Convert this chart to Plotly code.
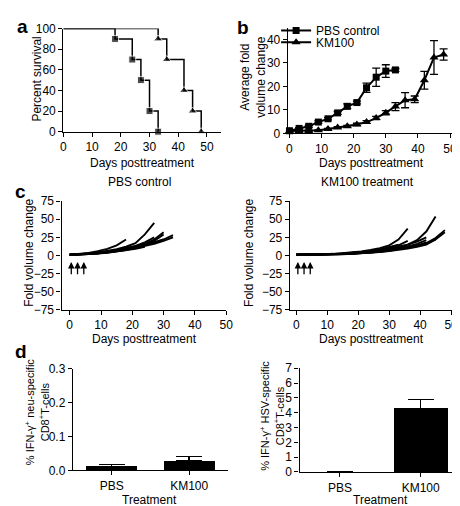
import plotly.graph_objects as go

W, H = 460, 506
FONT = "Liberation Sans, Arial, Helvetica, sans-serif"

# ---------------- data ----------------
# (a) Kaplan-Meier survival
SURV_PBS_DAYS = [0, 18, 24, 27, 30, 33]
SURV_PBS = [100, 90, 70, 50, 20, 0]
SURV_KM_DAYS = [0, 33, 36, 42, 45, 48]
SURV_KM = [100, 90, 70, 40, 20, 0]

# (b) average fold volume change
PBS_DAYS = [0, 3, 6, 9, 12, 15, 18, 21, 24, 27, 30, 33]
PBS_MEAN = [1.1, 2.1, 3.0, 4.8, 6.2, 8.7, 11.5, 13.1, 19.4, 23.9, 26.5, 27.0]
PBS_ERR = [0.2, 0.3, 0.4, 0.5, 0.5, 0.6, 1.0, 0.6, 2.0, 3.9, 2.7, 0.6]
KM_DAYS = [0, 3, 6, 9, 12, 15, 18, 21, 24, 27, 30, 33, 36, 39, 42, 45, 48]
KM_MEAN = [1.0, 1.0, 1.0, 1.3, 1.8, 2.5, 3.0, 3.8, 4.8, 6.5, 8.8, 11.4, 14.1, 14.5, 22.6, 32.3, 33.6]
KM_ERR = [0.2, 0.2, 0.2, 0.2, 0.3, 0.3, 0.4, 0.5, 0.6, 0.7, 0.9, 1.7, 3.2, 1.4, 3.8, 7.2, 2.4]

# (c) individual tumour growth curves (fold volume change), measured every 3 days
CURVE_DAYS = [0, 3, 6, 9, 12, 15, 18, 21, 24, 27, 30, 33, 36, 39, 42, 45, 48]
PBS_MICE = [
    [1, 2, 3.5, 6, 9, 14, 22],
    [1, 1.5, 2.5, 4, 6, 8.5, 12, 17, 29, 45],
    [1, 1.4, 2.3, 3.5, 5, 7, 9.5, 12.5, 16, 22, 32],
    [1, 1.3, 2, 3, 4.5, 6.5, 9, 12, 15, 20, 29],
    [1, 1.5, 2.5, 3.5, 5, 7, 10, 13, 18, 25],
    [1, 1.4, 2, 3, 4, 5.5, 8, 11, 14, 18, 22, 28],
    [1, 1.2, 1.8, 2.8, 4, 5.5, 7.5, 10, 13, 16, 20, 25],
    [1, 1.3, 2, 3, 4.5, 6, 8, 11, 14, 18, 22],
    [1, 1.5, 2.5, 3.5, 5, 7, 9.5, 12, 15],
    [1, 1.2, 1.8, 2.5, 3.5, 5, 7, 9, 12],
]
KM_MICE = [
    [1, 1, 1.3, 1.7, 2.2, 3, 4, 5.5, 7.5, 10, 14, 22, 37],
    [1, 1, 1.2, 1.5, 2, 2.6, 3.4, 4.5, 6, 8, 11, 15],
    [1, 1, 1.2, 1.5, 1.9, 2.5, 3.3, 4.3, 5.8, 7.8, 10.5, 14, 20],
    [1, 1, 1.1, 1.4, 1.8, 2.3, 3, 4, 5.3, 7, 9, 12, 15, 19, 25],
    [1, 1, 1.1, 1.3, 1.6, 2, 2.6, 3.4, 4.5, 6, 8, 10, 12.5, 16, 21],
    [1, 1, 1.1, 1.2, 1.5, 1.9, 2.4, 3, 4, 5.3, 7, 9, 11, 14, 18],
    [1, 1, 1.2, 1.5, 1.9, 2.5, 3.2, 4.2, 5.5, 7, 9, 11.5, 15, 21, 33, 54],
    [1, 1, 1.1, 1.3, 1.6, 2, 2.5, 3.2, 4.2, 5.5, 7, 9, 11, 13.5, 17, 24, 35],
    [1, 1, 1.1, 1.2, 1.5, 1.8, 2.3, 3, 3.8, 5, 6.5, 8.5, 10.5, 13, 16, 22, 32],
    [1, 1, 1.1, 1.2, 1.4, 1.7, 2.1, 2.7, 3.5, 4.5, 6, 7.5, 9.5, 12, 15, 22],
]
TREATMENT_DAYS = [0.5, 2.5, 4.5]

# (d) IFN-gamma ELISPOT
GROUPS = ["PBS", "KM100"]
NEU_MEAN = [0.012, 0.029]
NEU_ERR = [0.006, 0.011]
HSV_MEAN = [0, 4.3]
HSV_ERR = [None, 0.6]


# ---------------- helpers ----------------
def xd(a, b):
    return [a / W, b / W]


def yd(top, bottom):
    return [1 - bottom / H, 1 - top / H]


fig = go.Figure()

# (a)
fig.add_trace(go.Scatter(x=SURV_PBS_DAYS, y=SURV_PBS, mode="lines+markers", line_shape="hv",
                         line=dict(color="black", width=1.5),
                         marker=dict(symbol="square", size=[0] + [7] * 5, color="black"),
                         cliponaxis=False, showlegend=False, xaxis="x", yaxis="y"))
fig.add_trace(go.Scatter(x=SURV_KM_DAYS, y=SURV_KM, mode="lines+markers", line_shape="hv",
                         line=dict(color="black", width=1.5),
                         marker=dict(symbol="triangle-up", size=[0] + [8] * 5, color="black"),
                         cliponaxis=False, showlegend=False, xaxis="x", yaxis="y"))

# (b)
fig.add_trace(go.Scatter(x=PBS_DAYS, y=PBS_MEAN, mode="lines+markers", name="PBS control",
                         line=dict(color="black", width=2),
                         marker=dict(symbol="square", size=7, color="black"),
                         error_y=dict(type="data", array=PBS_ERR, color="black", thickness=1.3, width=4),
                         cliponaxis=False, xaxis="x2", yaxis="y2", legend="legend"))
fig.add_trace(go.Scatter(x=KM_DAYS, y=KM_MEAN, mode="lines+markers", name="KM100",
                         line=dict(color="black", width=2),
                         marker=dict(symbol="triangle-up", size=8, color="black"),
                         error_y=dict(type="data", array=KM_ERR, color="black", thickness=1.3, width=4),
                         cliponaxis=False, xaxis="x2", yaxis="y2", legend="legend2"))

# (c)
for m in PBS_MICE:
    fig.add_trace(go.Scatter(x=CURVE_DAYS[:len(m)], y=m, mode="lines",
                             line=dict(color="black", width=1.9), showlegend=False,
                             xaxis="x3", yaxis="y3"))
for m in KM_MICE:
    fig.add_trace(go.Scatter(x=CURVE_DAYS[:len(m)], y=m, mode="lines",
                             line=dict(color="black", width=1.9), showlegend=False,
                             xaxis="x4", yaxis="y4"))

# (d)
fig.add_trace(go.Bar(x=GROUPS, y=NEU_MEAN, width=0.66, marker=dict(color="black", line=dict(width=0)),
                     error_y=dict(type="data", symmetric=False, array=NEU_ERR, arrayminus=[0, 0],
                                  color="black", thickness=1.3, width=13),
                     showlegend=False, xaxis="x5", yaxis="y5"))
fig.add_trace(go.Bar(x=GROUPS, y=HSV_MEAN, width=0.66, marker=dict(color="black", line=dict(width=0)),
                     error_y=dict(type="data", symmetric=False, array=HSV_ERR, arrayminus=[0, 0],
                                  color="black", thickness=1.3, width=13),
                     showlegend=False, xaxis="x6", yaxis="y6"))

AX = dict(showline=True, linecolor="black", linewidth=1.3, ticks="outside", ticklen=4,
          tickwidth=1.2, tickcolor="black", showgrid=False, zeroline=False,
          ticklabeloverflow="allow",
          tickfont=dict(family=FONT, size=12, color="black"), fixedrange=True)

fig.update_layout(
    width=W, height=H, margin=dict(l=0, r=0, t=0, b=0),
    paper_bgcolor="white", plot_bgcolor="white",
    font=dict(family=FONT, size=12, color="black"),
    xaxis=dict(AX, domain=xd(53.5, 215), range=[0, 55], tickvals=[0, 10, 20, 30, 40, 50], anchor="y"),
    yaxis=dict(AX, domain=yd(14, 120), range=[0, 100], tickvals=[0, 20, 40, 60, 80, 100], anchor="x"),
    xaxis2=dict(AX, domain=xd(283, 457), range=[-0.5, 52.5], tickvals=[0, 10, 20, 30, 40, 50], anchor="y2"),
    yaxis2=dict(AX, domain=yd(13, 121.7), range=[0, 45], tickvals=[0, 10, 20, 30, 40], anchor="x2"),
    xaxis3=dict(AX, domain=xd(51.7, 220), range=[-2.6, 50], tickvals=[0, 10, 20, 30, 40, 50], anchor="y3"),
    yaxis3=dict(AX, domain=yd(191.5, 303), range=[-75, 75], tickvals=[-75, -50, -25, 0, 25, 50, 75], anchor="x3"),
    xaxis4=dict(AX, domain=xd(285, 453), range=[-2.1, 51], tickvals=[0, 10, 20, 30, 40, 50], anchor="y4"),
    yaxis4=dict(AX, domain=yd(191.5, 303), range=[-75, 75], tickvals=[-75, -50, -25, 0, 25, 50, 75], anchor="x4"),
    xaxis5=dict(AX, domain=xd(63.3, 221.7), type="category", range=[-0.5, 1.5], anchor="y5"),
    yaxis5=dict(AX, domain=yd(364, 468.3), range=[0, 0.3], tickvals=[0, 0.1, 0.2, 0.3], tickformat=".1f", anchor="x5"),
    xaxis6=dict(AX, domain=xd(295, 460), type="category", range=[-0.5, 1.5], anchor="y6"),
    yaxis6=dict(AX, domain=yd(363.3, 470), range=[0, 7], tickvals=list(range(8)), anchor="x6"),
    legend=dict(x=271 / W, y=1 - 1 / H, xanchor="left", yanchor="top", bgcolor="rgba(0,0,0,0)",
                font=dict(family=FONT, size=12), itemwidth=30),
    legend2=dict(x=271 / W, y=1 - 13 / H, xanchor="left", yanchor="top", bgcolor="rgba(0,0,0,0)",
                 font=dict(family=FONT, size=12), itemwidth=30),
    bargap=0,
)

anns = []


def ann(text, x, y, size=12, angle=0, bold=False):
    anns.append(dict(text=f"<b>{text}</b>" if bold else text, x=x / W, y=1 - y / H,
                     xref="paper", yref="paper", showarrow=False, textangle=angle,
                     xanchor="center", yanchor="middle",
                     font=dict(family=FONT, size=size, color="black")))


# panel letters
ann("a", 12, 12, 19, bold=True)
ann("b", 237, 13, 19, bold=True)
ann("c", 10, 182, 19, bold=True)
ann("d", 10, 346, 19, bold=True)
# axis titles
ann("Percent survival", 27, 66, angle=-90)
ann("Days posttreatment", 134, 152)
ann("Average fold<br>volume change", 248, 64, angle=-90)
ann("Days posttreatment", 368, 152)
ann("PBS control", 131, 172)
ann("KM100 treatment", 364, 172)
ann("Fold volume change", 19, 245, angle=-90)
ann("Fold volume change", 244, 245, angle=-90)
ann("Days posttreatment", 136, 333)
ann("Days posttreatment", 369, 333)
ann("% IFN-γ<sup>+</sup> neu-specific<br>CD8<sup>+</sup>T-cells", 26, 408, 11, angle=-90)
ann("% IFN-γ<sup>+</sup> HSV-specific<br>CD8<sup>+</sup>T-cells", 266, 412, 11, angle=-90)
ann("Treatment", 142, 499)
ann("Treatment", 378, 499)

# treatment arrows in (c)
for xa, ya in (("x3", "y3"), ("x4", "y4")):
    for d in TREATMENT_DAYS:
        anns.append(dict(x=d, y=-9, ax=d, ay=-28, xref=xa, yref=ya, axref=xa, ayref=ya,
                         showarrow=True, arrowhead=2, arrowsize=1, arrowwidth=1.3,
                         arrowcolor="black", text=""))

fig.update_layout(annotations=anns)
fig.write_html("out.html")
